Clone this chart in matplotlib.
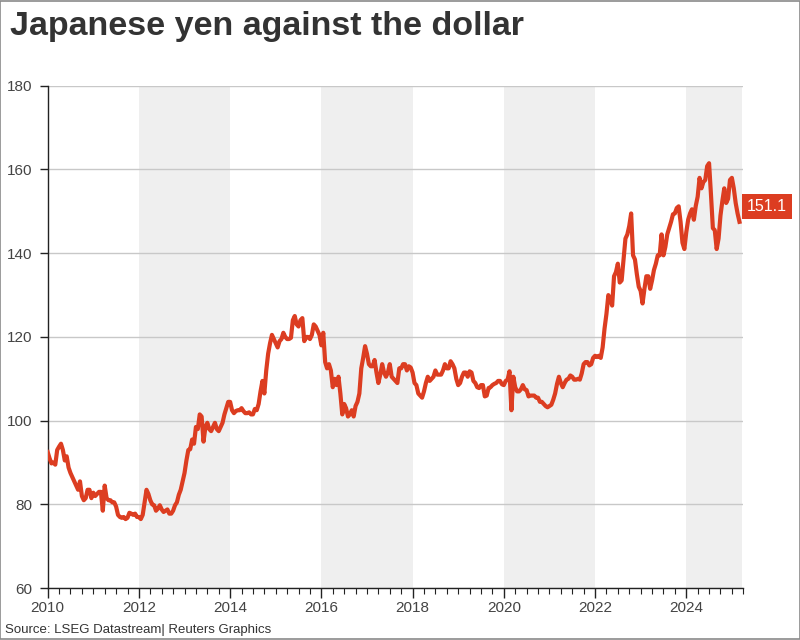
import matplotlib
matplotlib.use("Agg")
import matplotlib.pyplot as plt
import matplotlib.transforms as mtransforms
from matplotlib.patches import Rectangle
import numpy as np

# Semi-monthly readings of USD/JPY (yen per dollar), two points per month
yen_2010 = [92.5, 91.0, 89.8, 90.0, 89.5, 93.0, 93.8, 94.5, 93.0, 90.5, 91.5, 88.8,
            87.5, 86.5, 85.5, 84.5, 83.5, 85.5, 82.0, 81.0, 81.5, 83.5, 83.5, 81.5]
yen_2011 = [82.8, 82.0, 82.5, 83.0, 83.0, 78.5, 84.5, 81.5, 81.0, 81.0, 80.5, 80.5,
            79.5, 77.5, 77.0, 76.8, 77.0, 76.5, 76.8, 78.0, 77.8, 77.5, 77.8, 77.0]
yen_2012 = [77.0, 76.5, 77.5, 80.5, 83.5, 82.5, 81.0, 80.0, 79.8, 78.5, 79.0, 79.8,
            78.8, 78.2, 78.5, 78.8, 77.8, 77.8, 78.5, 79.8, 80.5, 82.3, 83.5, 85.5]
yen_2013 = [87.5, 90.5, 93.0, 93.2, 95.5, 94.5, 98.5, 98.0, 101.5, 101.0, 95.0, 98.5,
            99.5, 98.0, 97.5, 98.5, 99.5, 98.0, 97.5, 98.5, 99.5, 101.5, 103.0, 104.5]
yen_2014 = [104.5, 102.5, 101.8, 102.3, 102.5, 102.5, 103.0, 102.3, 101.8, 101.8, 102.0, 101.5,
            101.5, 102.8, 102.5, 104.0, 107.0, 109.5, 106.5, 112.0, 116.0, 118.5, 120.5, 119.5]
yen_2015 = [118.5, 117.5, 119.0, 119.5, 121.0, 120.0, 119.5, 119.5, 119.8, 124.0, 125.0, 123.0,
            122.5, 124.0, 124.5, 119.0, 120.0, 120.0, 119.5, 120.5, 123.0, 122.5, 121.5, 120.5]
yen_2016 = [118.0, 121.0, 114.0, 112.5, 113.5, 112.0, 108.0, 110.0, 108.5, 110.5, 106.5, 101.5,
            104.0, 103.0, 101.0, 101.5, 102.5, 101.0, 103.5, 104.5, 106.5, 112.5, 115.0, 117.8]
yen_2017 = [116.0, 113.5, 113.0, 113.0, 114.5, 111.5, 109.0, 111.0, 113.5, 111.5, 110.5, 111.5,
            113.5, 110.5, 110.0, 109.5, 109.0, 112.5, 112.5, 113.5, 113.5, 112.0, 113.0, 112.7]
yen_2018 = [111.5, 109.0, 108.5, 106.5, 106.0, 105.5, 107.0, 109.0, 110.5, 109.5, 110.0, 110.5,
            112.0, 111.0, 111.0, 111.0, 112.0, 113.5, 112.5, 112.5, 114.2, 113.5, 112.5, 110.0]
yen_2019 = [108.5, 109.0, 110.5, 111.5, 111.5, 110.5, 111.8, 111.5, 109.5, 109.0, 108.0, 107.8,
            108.5, 108.5, 105.8, 106.0, 107.8, 108.0, 108.5, 108.8, 109.0, 109.5, 109.5, 108.7]
yen_2020 = [108.5, 109.5, 109.8, 111.8, 102.5, 110.5, 108.0, 107.0, 107.0, 107.5, 108.5, 107.5,
            107.3, 105.8, 106.0, 106.0, 106.0, 105.5, 105.5, 104.5, 104.5, 104.0, 103.5, 103.2]
yen_2021 = [103.5, 103.8, 105.0, 106.5, 108.8, 110.5, 109.0, 108.0, 109.0, 109.8, 110.0, 110.8,
            110.5, 109.8, 109.8, 110.0, 109.8, 111.3, 113.5, 114.0, 114.0, 113.2, 113.5, 115.0]
yen_2022 = [115.5, 115.2, 115.5, 115.0, 117.5, 122.0, 125.5, 130.0, 129.0, 127.5, 134.5, 135.5,
            137.5, 133.0, 133.5, 138.5, 143.5, 144.5, 146.5, 149.5, 139.5, 138.5, 135.0, 132.0]
yen_2023 = [131.0, 128.0, 131.5, 134.5, 134.5, 131.5, 133.5, 136.0, 137.5, 139.5, 139.5, 144.5,
            139.5, 141.5, 144.5, 146.0, 147.5, 149.3, 149.5, 150.8, 151.2, 147.5, 142.5, 141.0]
yen_2024 = [145.0, 148.0, 149.5, 150.5, 148.0, 151.3, 153.5, 158.0, 155.5, 157.0, 157.5, 160.8,
            161.5, 154.0, 146.0, 145.5, 141.0, 143.5, 149.0, 152.5, 155.5, 152.0, 153.0, 157.5]
yen_2025 = [158.0, 155.5, 152.0, 149.5, 147.5]

latest_label = "151.1"
latest_value = 151.1

years = list(range(2010, 2026))
series = [yen_2010, yen_2011, yen_2012, yen_2013, yen_2014, yen_2015, yen_2016, yen_2017,
          yen_2018, yen_2019, yen_2020, yen_2021, yen_2022, yen_2023, yen_2024, yen_2025]

x = []
y = []
for yr, vals in zip(years, series):
    for i, v in enumerate(vals):
        x.append(yr + i / 24.0)
        y.append(v)

plt.rcParams['font.family'] = ['Liberation Sans', 'DejaVu Sans']

fig = plt.figure(figsize=(8, 6.4), dpi=100)
ax = fig.add_axes([0.0596, 0.081, 0.8695, 0.785])

xmin, xmax = 2010, 2025.22
ax.set_xlim(xmin, xmax)
ax.set_ylim(60, 180)

# shaded alternate two-year bands
for start in [2012, 2016, 2020, 2024]:
    ax.axvspan(start, min(start + 2, xmax), color='#efefef', lw=0, zorder=0)

ax.set_yticks([60, 80, 100, 120, 140, 160, 180])
ax.yaxis.grid(True, color='#c8c8c8', lw=1, zorder=1)
ax.set_xticks(list(range(2010, 2025, 2)))
ax.set_xticks(np.arange(2010, 2025.3, 0.25), minor=True)

ax.plot(x, y, color='#dc3d21', lw=3.0, zorder=3, solid_joinstyle='round')

for side in ['top', 'right']:
    ax.spines[side].set_visible(False)
for side in ['left', 'bottom']:
    ax.spines[side].set_color('#222222')
    ax.spines[side].set_linewidth(1.0)

ax.tick_params(axis='y', which='major', direction='out', length=6, width=1,
               color='#222222', labelsize=11, labelcolor='#444444', pad=5)
ax.tick_params(axis='x', which='major', direction='out', length=7, width=1,
               color='#222222', labelsize=11, labelcolor='#444444', pad=2)
ax.tick_params(axis='x', which='minor', direction='out', length=4, width=0.8,
               color='#222222')

# latest value tag
trans = mtransforms.blended_transform_factory(ax.transAxes, ax.transData)
ax.text(1.005, latest_value, latest_label, transform=trans, ha='left', va='center',
        color='white', fontsize=11.5,
        bbox=dict(boxstyle='square,pad=0.3', fc='#dc3d21', ec='none'),
        zorder=5, clip_on=False)

fig.text(0.0125, 0.958, "Japanese yen against the dollar", fontsize=24.5, fontweight='bold',
         color='#333333', ha='left', va='center')
fig.text(0.006, 0.016, "Source: LSEG Datastream| Reuters Graphics", fontsize=9.5,
         color='#333333', ha='left', va='center')

fig.patches.append(Rectangle((0.0006, 0.0008), 0.9988, 0.9984, transform=fig.transFigure,
                             fill=False, ec='#8a8a8a', lw=1.2))

fig.savefig("out.png", dpi=100)
